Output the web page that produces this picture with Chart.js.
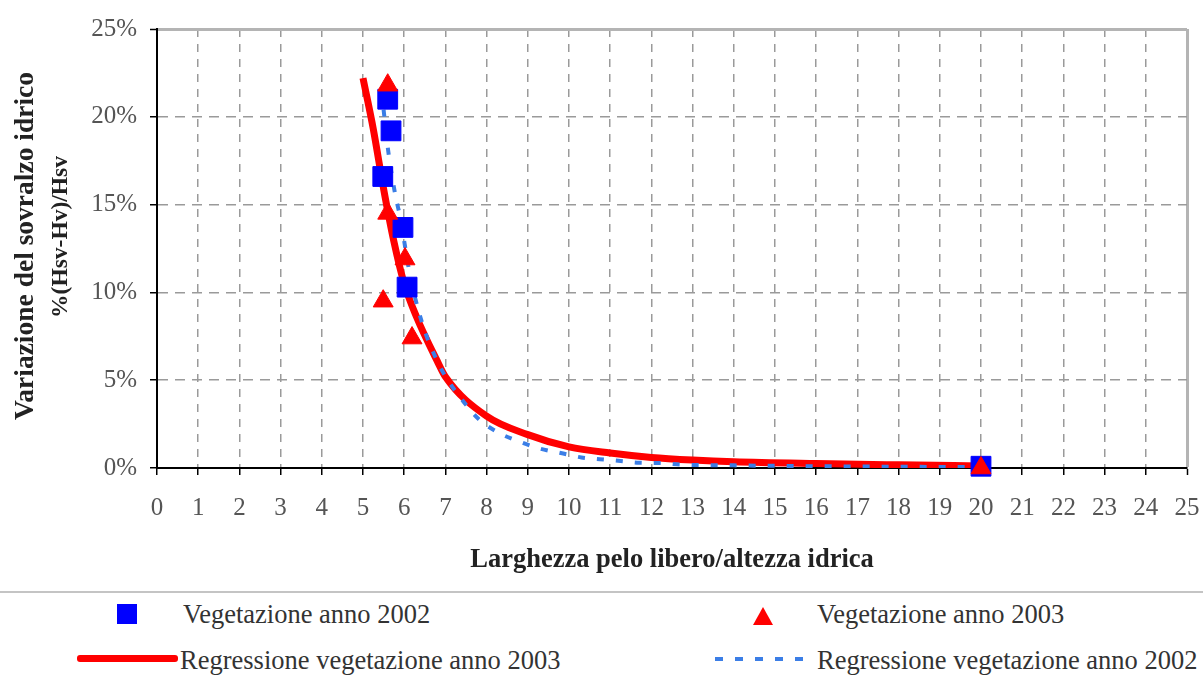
<!DOCTYPE html>
<html>
<head>
<meta charset="utf-8">
<script src="https://cdn.jsdelivr.net/npm/chart.js@4.4.1/dist/chart.umd.min.js"></script>
<style>
    body { margin: 0; background: #fff; }
    #wrap { position: relative; width: 1203px; height: 677px; overflow: hidden; font-family: 'Liberation Serif', serif; }
    #chart { position: absolute; left: 0; top: 0; }
    .sep { position: absolute; left: 0; top: 591px; width: 1203px; height: 2px; background: #c4c4c4; }
    .txt { position: absolute; font-size: 26.5px; color: #333; line-height: 30px; white-space: nowrap; }
    .sq { position: absolute; left: 117px; top: 604px; width: 20px; height: 20px; background: #0000ff; }
    .tri { position: absolute; left: 753px; top: 607px; width: 20px; height: 18px; background: #ff0000; clip-path: polygon(50% 0, 100% 100%, 0 100%); }
    .redline { position: absolute; left: 77px; top: 655px; width: 101px; height: 7px; border-radius: 3px; background: #ff0000; }
    .blueline { position: absolute; left: 715px; top: 657px; width: 92px; height: 4px; background: repeating-linear-gradient(to right, #3b7ee6 0 8px, transparent 8px 20px); }
</style>
</head>
<body>
<div id="wrap">
    <canvas id="chart" width="1203" height="590"></canvas>
    <div class="sep"></div>
    <div class="sq"></div>
    <div class="txt" style="left:183px; top:599px;">Vegetazione anno 2002</div>
    <div class="tri"></div>
    <div class="txt" style="left:817px; top:599px;">Vegetazione anno 2003</div>
    <div class="redline"></div>
    <div class="txt" style="left:180px; top:645px;">Regressione vegetazione anno 2003</div>
    <div class="blueline"></div>
    <div class="txt" style="left:817px; top:645px;">Regressione vegetazione anno 2002</div>
</div>
<script>
const x2002 = [5.6, 5.68, 5.48, 5.97, 6.07, 20];
const y2002 = [21.0, 19.2, 16.6, 13.7, 10.3, 0.1];

const x2003 = [5.6, 5.6, 6.02, 5.49, 6.19, 20];
const y2003 = [21.8, 14.5, 11.9, 9.5, 7.4, 0];

// curve di regressione (valori letti lungo le linee)
const xReg2003 = [5.0, 5.25, 5.5, 5.75, 6.0, 6.3, 6.8, 7, 8, 9, 10, 11, 12, 13, 14, 16, 18, 20];
const yReg2003 = [22.2, 19.3, 15.9, 12.9, 10.5, 8.6, 6.1, 5.2, 2.95, 1.9, 1.2, 0.85, 0.6, 0.45, 0.35, 0.25, 0.18, 0.12];

const xReg2002 = [5.5, 5.61, 5.78, 5.9, 6.14, 6.43, 6.8, 7.06, 7.4, 7.8, 8.3, 8.8, 9.3, 9.8, 10.3, 10.75, 11.25, 11.7, 12.25, 12.7, 14, 16, 18, 20];
const yReg2002 = [20.4, 18.1, 15.6, 14.3, 11.0, 8.3, 6.1, 5.0, 3.9, 2.8, 2.0, 1.5, 1.1, 0.85, 0.6, 0.5, 0.4, 0.3, 0.28, 0.2, 0.15, 0.1, 0.07, 0.05];

const xTicks = { min: 0, max: 25, step: 1 };
const yTicks = { min: 0, max: 25, step: 5 };

const yTitle = ['Variazione del sovralzo idrico', '%(Hsv-Hv)/Hsv'];
const xTitle = 'Larghezza pelo libero/altezza idrica';

function toPoints(xs, ys) {
    return xs.map((x, i) => ({ x: x, y: ys[i] }));
}

const tickFont = { family: 'Liberation Serif', size: 25 };

// titoli degli assi
const axisTitles = {
    id: 'axisTitles',
    afterDraw(chart) {
        const ctx = chart.ctx;
        const area = chart.chartArea;
        ctx.save();
        ctx.fillStyle = '#222';
        ctx.textAlign = 'center';
        ctx.textBaseline = 'alphabetic';
        ctx.font = 'bold 26.5px "Liberation Serif"';
        ctx.fillText(xTitle, (area.left + area.right) / 2, 567);

        ctx.textBaseline = 'middle';
        ctx.translate(26, 246);
        ctx.rotate(-Math.PI / 2);
        ctx.font = 'bold 27.5px "Liberation Serif"';
        ctx.fillText(yTitle[0], 0, 0);
        ctx.font = 'bold 23.5px "Liberation Serif"';
        ctx.fillText(yTitle[1], 9, 35);
        ctx.restore();
    }
};

new Chart(document.getElementById('chart'), {
    type: 'scatter',
    data: {
        datasets: [{
            label: 'Vegetazione anno 2003',
            data: toPoints(x2003, y2003),
            pointStyle: 'triangle',
            pointRadius: 11.5,
            backgroundColor: '#ff0000',
            borderColor: '#ff0000',
            borderWidth: 1,
            clip: false,
            order: 1
        }, {
            label: 'Vegetazione anno 2002',
            data: toPoints(x2002, y2002),
            pointStyle: 'rect',
            pointRadius: 14,
            backgroundColor: '#0000ff',
            borderColor: '#0000ff',
            borderWidth: 1,
            clip: false,
            order: 2
        }, {
            label: 'Regressione vegetazione anno 2002',
            data: toPoints(xReg2002, yReg2002),
            showLine: true,
            pointRadius: 0,
            borderColor: '#3b7ee6',
            borderWidth: 4,
            borderDash: [7, 12],
            cubicInterpolationMode: 'monotone',
            order: 3
        }, {
            label: 'Regressione vegetazione anno 2003',
            data: toPoints(xReg2003, yReg2003),
            showLine: true,
            pointRadius: 0,
            borderColor: '#ff0000',
            borderWidth: 7,
            cubicInterpolationMode: 'monotone',
            order: 4
        }]
    },
    options: {
        responsive: false,
        animation: false,
        layout: { padding: { top: 29, right: 16, left: 0, bottom: 0 } },
        plugins: { legend: { display: false }, tooltip: { enabled: false } },
        scales: {
            x: {
                type: 'linear',
                min: xTicks.min,
                max: xTicks.max,
                afterFit: s => { s.height = 122; s.paddingRight = 0; s.paddingLeft = 0; },
                ticks: { stepSize: xTicks.step, color: '#555', font: tickFont, padding: 18, maxRotation: 0 },
                grid: {
                    color: c => c.tick && c.tick.value === 25 ? '#b4b4b4' : '#9a9a9a',
                    lineWidth: c => c.tick && c.tick.value === 25 ? 3 : 1.5,
                    tickColor: '#000',
                    tickLength: 7,
                    tickWidth: 1.5
                },
                border: { color: '#000', width: 2, dash: c => c.tick && c.tick.value === 25 ? [] : [8, 7] }
            },
            y: {
                min: yTicks.min,
                max: yTicks.max,
                afterFit: s => { s.width = 157; },
                ticks: { stepSize: yTicks.step, color: '#555', font: tickFont, padding: 13, callback: v => v + '%' },
                grid: {
                    color: c => c.tick && c.tick.value === 25 ? '#b4b4b4' : '#9a9a9a',
                    lineWidth: c => c.tick && c.tick.value === 25 ? 3 : 1.5,
                    tickColor: '#000',
                    tickLength: 7,
                    tickWidth: 1.5
                },
                border: { color: '#000', width: 2, dash: c => c.tick && c.tick.value === 25 ? [] : [10, 7] }
            }
        }
    },
    plugins: [axisTitles]
});
</script>
</body>
</html>
